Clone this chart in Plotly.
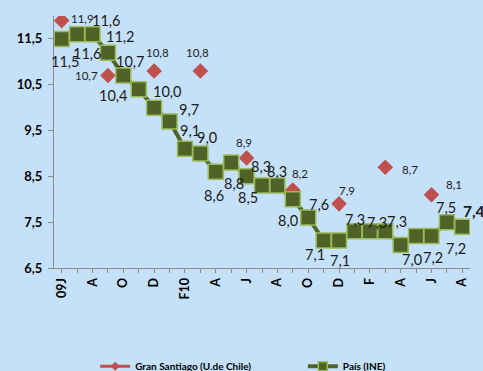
import plotly.graph_objects as go

# Monthly moving-quarter unemployment rate (%), Jun 2009 - Aug 2011
months = list(range(27))
tick_labels = ["09J", "", "A", "", "O", "", "D", "", "F10", "", "A", "", "J", "",
               "A", "", "O", "", "D", "", "F", "", "A", "", "J", "", "A"]

pais_ine = [11.5, 11.6, 11.6, 11.2, 10.7, 10.4, 10.0, 9.7, 9.1, 9.0, 8.6, 8.8, 8.5,
            8.3, 8.3, 8.0, 7.6, 7.1, 7.1, 7.3, 7.3, 7.3, 7.0, 7.2, 7.2, 7.5, 7.4]

gran_santiago = [11.9, None, None, 10.7, None, None, 10.8, None, None, 10.8, None, None,
                 8.9, None, None, 8.2, None, None, 7.9, None, None, 8.7, None, None,
                 8.1, None, None]

y_ticks = [6.5, 7.5, 8.5, 9.5, 10.5, 11.5]

# Label offsets in pixels (right, down) from each marker
pais_offsets = [(4, 23), (10, 19), (14, -14), (13, -16), (7, -14), (-25, 6), (13, -16),
                (19, -12), (5, -18), (7, -16), (-2, 24), (3, 21), (1, 21), (-1, -19),
                (0, -14), (-5, 21), (11, -13), (-9, 14), (1, 20), (1, -12), (7, -9),
                (12, -10), (11, 14), (17, 22), (25, 13), (-1, -15), (12, -16)]
gs_offsets = [(21, -2), (-21, 0), (3, -18), (-3, -18), (-3, -16), (7, -17), (8, -13),
              (25, 2), (23, -10)]


def fmt(v):
    return f"{v:.1f}".replace(".", ",")


BG = "#C5E1FA"
AXIS = "#8C8C8C"
FONT = "Lato"
RED = "#C0504D"
OLIVE = "#4F6228"
LIGHT_OLIVE = "#9BBB59"

fig = go.Figure()

fig.add_trace(go.Scatter(
    x=months, y=gran_santiago, name="Gran Santiago (U.de Chile)",
    mode="markers", showlegend=False,
    marker=dict(symbol="diamond", size=12, color=RED),
))

fig.add_trace(go.Scatter(
    x=months, y=pais_ine, name="País (INE)",
    mode="lines+markers", showlegend=False,
    line=dict(color=OLIVE, width=4),
    marker=dict(symbol="square", size=15, color=OLIVE,
                line=dict(color=LIGHT_OLIVE, width=1.5)),
))

# Legend entries (smaller symbols than the plotted markers)
fig.add_trace(go.Scatter(
    x=[None], y=[None], name="Gran Santiago (U.de Chile)", legend="legend",
    mode="lines+markers", line=dict(color=RED, width=3),
    marker=dict(symbol="diamond", size=7, color=RED),
))
fig.add_trace(go.Scatter(
    x=[None], y=[None], name="País (INE)", legend="legend2",
    mode="lines+markers", line=dict(color=OLIVE, width=4),
    marker=dict(symbol="square", size=9, color=OLIVE,
                line=dict(color=LIGHT_OLIVE, width=1.5)),
))

annotations = []
for i, v in enumerate(pais_ine):
    dx, dy = pais_offsets[i]
    txt = fmt(v)
    size = 14.5
    if i == len(pais_ine) - 1:
        txt = "<b>" + txt + "</b>"
        size = 15.5
    annotations.append(dict(
        x=months[i], y=v, text=txt, showarrow=False, xshift=dx, yshift=-dy,
        xanchor="center", yanchor="middle",
        font=dict(family=FONT, size=size, color="#1a1a1a")))

k = 0
for i, v in enumerate(gran_santiago):
    if v is None:
        continue
    dx, dy = gs_offsets[k]
    k += 1
    annotations.append(dict(
        x=months[i], y=v, text=fmt(v), showarrow=False, xshift=dx, yshift=-dy,
        xanchor="center", yanchor="middle",
        font=dict(family=FONT, size=11.5, color="#1a1a1a")))

legend_font = dict(family=FONT, size=10, color="#000000", weight="bold")

fig.update_layout(
    width=483, height=371,
    margin=dict(l=54, r=13, t=16, b=103, autoexpand=False),
    paper_bgcolor=BG, plot_bgcolor=BG,
    font=dict(family=FONT, color="#000000"),
    showlegend=True,
    annotations=annotations,
    legend=dict(orientation="h", xref="container", yref="container",
                x=0.197, xanchor="left", y=0.013, yanchor="middle",
                bgcolor="rgba(0,0,0,0)", font=legend_font),
    legend2=dict(orientation="h", xref="container", yref="container",
                 x=0.627, xanchor="left", y=0.013, yanchor="middle",
                 bgcolor="rgba(0,0,0,0)", font=legend_font),
    xaxis=dict(
        range=[-0.5, 26.5], tickmode="array", tickvals=months, ticktext=tick_labels,
        tickangle=-90, showgrid=False, zeroline=False, automargin=False,
        showline=True, linecolor=AXIS, linewidth=1,
        ticks="outside", ticklen=4, tickcolor=AXIS,
        tickfont=dict(family=FONT, size=12.5, color="#000000", weight="bold"),
    ),
    yaxis=dict(
        range=[6.5, 12.0], tickmode="array", tickvals=y_ticks,
        ticktext=[fmt(v) for v in y_ticks], showgrid=False, zeroline=False,
        automargin=False,
        showline=True, linecolor=AXIS, linewidth=1,
        ticks="outside", ticklen=5, tickcolor=AXIS, ticklabelstandoff=3,
        tickfont=dict(family=FONT, size=13, color="#000000", weight="bold"),
    ),
)

fig.write_html("out.html")
